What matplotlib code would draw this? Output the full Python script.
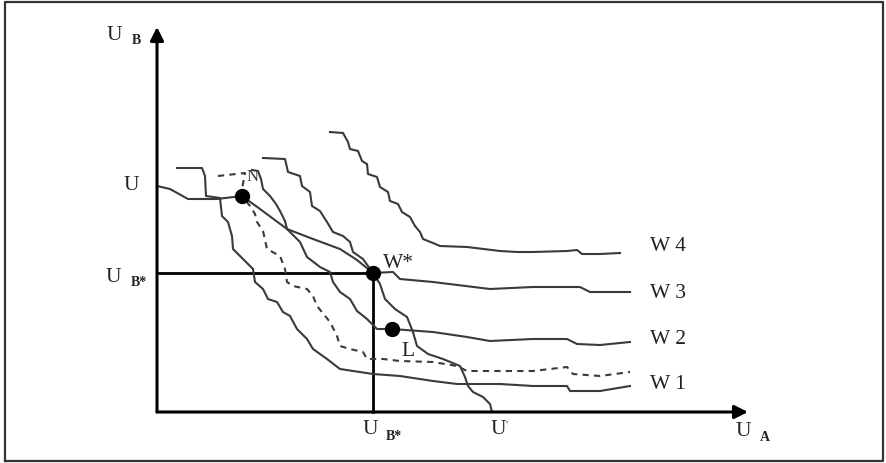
import matplotlib
matplotlib.use('Agg')
import matplotlib.pyplot as plt

# coordinates are in diagram units: origin at the axes corner, U_A to the right, U_B up
frontier_x = [0, 13, 31, 60, 85, 103, 130, 156, 183, 200, 216, 223, 228, 238, 250, 256, 260,
              271, 286, 303, 308, 311, 316, 326, 333, 335]
frontier_y = [226, 223, 213, 213, 216, 203, 183, 173, 163, 152, 139, 128, 113, 103, 95, 80, 66,
              58, 53, 46, 35, 26, 20, 15, 8, 0]

w4_x = [173, 186, 191, 193, 201, 205, 210, 211, 220, 223, 231, 233, 241, 245, 253, 258, 263,
        266, 276, 283, 310, 343, 360, 376, 410, 420, 425, 443, 463]
w4_y = [280, 279, 270, 263, 261, 251, 248, 238, 235, 225, 220, 211, 208, 200, 195, 186, 180,
        173, 169, 166, 165, 161, 160, 160, 161, 162, 158, 158, 159]

w3_x = [106, 128, 131, 143, 145, 153, 155, 163, 170, 176, 186, 193, 196, 206, 216, 236, 243,
        276, 333, 376, 423, 433, 473]
w3_y = [254, 253, 240, 236, 226, 220, 206, 201, 190, 180, 176, 170, 160, 153, 139, 140, 133,
        130, 123, 125, 125, 120, 120]

w2_x = [95, 101, 104, 106, 113, 119, 123, 128, 130, 143, 150, 163, 173, 176, 183, 193, 200,
        210, 220, 235, 276, 310, 333, 376, 410, 420, 443, 473]
w2_y = [242, 241, 233, 223, 216, 208, 201, 191, 183, 170, 155, 145, 140, 130, 120, 113, 101,
        93, 83, 83, 80, 75, 71, 73, 73, 68, 67, 70]

w1_x = [20, 45, 48, 49, 63, 65, 71, 75, 76, 86, 96, 98, 106, 111, 120, 126, 133, 140, 150,
        156, 170, 183, 216, 243, 276, 300, 343, 376, 410, 413, 443, 473]
w1_y = [244, 244, 236, 216, 214, 196, 190, 176, 163, 153, 143, 130, 123, 113, 110, 100, 96,
        83, 73, 63, 53, 43, 38, 36, 31, 28, 28, 26, 26, 21, 21, 26]

dash_x = [61, 88, 85, 85, 93, 98, 100, 106, 110, 123, 128, 130, 136, 150, 156, 160, 173, 180,
          183, 193, 206, 210, 226, 243, 276, 300, 310, 343, 376, 410, 416, 443, 473]
dash_y = [236, 239, 223, 216, 206, 198, 190, 181, 163, 156, 143, 130, 126, 123, 116, 106, 90,
          76, 66, 63, 60, 53, 53, 51, 50, 46, 41, 41, 41, 45, 38, 36, 40]

# marked points
w_star = (216, 139)
n_point = (85, 216)
l_point = (235, 83)
u_prime = 335

curve_labels = ['W 4', 'W 3', 'W 2', 'W 1']
curve_label_y = [166, 120, 74, 28]

fig = plt.figure(figsize=(8.87, 4.64), dpi=100)
ax = fig.add_axes([0, 0, 1, 1])
ax.set_xlim(-157, 730)
ax.set_ylim(-51, 413)
ax.axis('off')

plt.rcParams['font.family'] = ['Liberation Serif', 'DejaVu Serif']
curve_col = '#3a3a3a'

# outer frame
ax.plot([-152, 726, 726, -152, -152], [-49, -49, 410, 410, -49], color='#333333', lw=1.6)

# axes with arrows
ax.annotate('', xy=(0, 385), xytext=(0, 0),
            arrowprops=dict(arrowstyle='-|>', lw=2.2, color='black', mutation_scale=20,
                            shrinkA=0, shrinkB=0))
ax.annotate('', xy=(591, 0), xytext=(0, 0),
            arrowprops=dict(arrowstyle='-|>', lw=2.2, color='black', mutation_scale=20,
                            shrinkA=0, shrinkB=0))

# guide lines to W*
ax.plot([0, w_star[0]], [w_star[1], w_star[1]], color='black', lw=2)
ax.plot([w_star[0], w_star[0]], [0, w_star[1]], color='black', lw=2)

for xs, ys in [(frontier_x, frontier_y), (w4_x, w4_y), (w3_x, w3_y), (w2_x, w2_y), (w1_x, w1_y)]:
    ax.plot(xs, ys, color=curve_col, lw=1.5, solid_joinstyle='round')
ax.plot(dash_x, dash_y, color=curve_col, lw=1.5, dashes=(3, 2.5))

for p in [w_star, n_point, l_point]:
    ax.plot(p[0], p[1], 'o', color='black', ms=10)

# text labels
fs = 15.5
sub = 10
tc = '#222222'
ax.text(-43, 377, 'U', fontsize=fs, ha='center', va='center', color=tc)
ax.text(-21, 372, 'B', fontsize=sub, fontweight='bold', ha='center', va='center', color=tc)
ax.text(-26, 227, 'U', fontsize=fs, ha='center', va='center', color=tc)
ax.text(-44, 136, 'U', fontsize=fs, ha='center', va='center', color=tc)
ax.text(-18, 130, 'B*', fontsize=sub, fontweight='bold', ha='center', va='center', color=tc)
ax.text(213, -17, 'U', fontsize=fs, ha='center', va='center', color=tc)
ax.text(237, -24, 'B*', fontsize=sub, fontweight='bold', ha='center', va='center', color=tc)
ax.text(u_prime + 6, -17, 'U', fontsize=fs, ha='center', va='center', color=tc)
ax.text(u_prime + 15, -12, "'", fontsize=8, ha='center', va='center', color=tc)
ax.text(586, -19, 'U', fontsize=fs, ha='center', va='center', color=tc)
ax.text(608, -25, 'A', fontsize=sub, fontweight='bold', ha='center', va='center', color=tc)

ax.text(241, 150, 'W*', fontsize=fs, ha='center', va='center', color=tc)
ax.text(96, 236, 'N', fontsize=12, ha='center', va='center', color=curve_col)
ax.text(251, 61, 'L', fontsize=fs, ha='center', va='center', color=tc)

for lab, y in zip(curve_labels, curve_label_y):
    ax.text(493, y, lab, fontsize=fs, ha='left', va='center', color=tc)

fig.savefig('out.png', dpi=100)
